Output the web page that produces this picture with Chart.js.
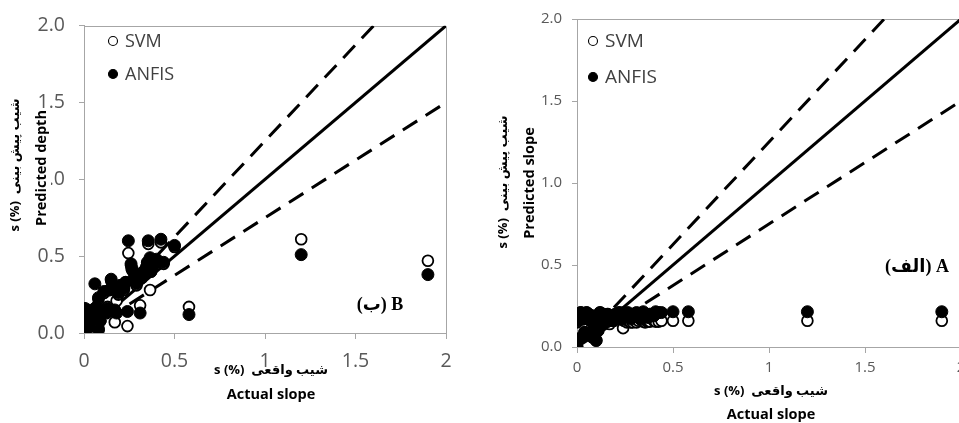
<!DOCTYPE html>
<html>
<head>
<meta charset="utf-8">
<script src="https://cdn.jsdelivr.net/npm/chart.js@4.4.0/dist/chart.umd.min.js"></script>
<style>
html, body { margin: 0; padding: 0; background: #fff; overflow: hidden; }
body { width: 959px; height: 423px; position: relative; }
.panel { position: absolute; top: 0; height: 423px; }
#wrapB { left: 0; width: 480px; }
#wrapA { left: 480px; width: 600px; }
</style>
</head>
<body>
<div class="panel" id="wrapB"><canvas id="chartB" width="480" height="423"></canvas></div>
<div class="panel" id="wrapA"><canvas id="chartA" width="600" height="423"></canvas></div>
<script>
// actual slope of each sample (shared by both panels)
var actualSlope = [0, 0, 0, 0.005, 0.01, 0.02, 0.03, 0.04, 0.05, 0.06,
  0.07, 0.08, 0.08, 0.09, 0.10, 0.11, 0.12, 0.13, 0.14, 0.15,
  0.16, 0.17, 0.18, 0.19, 0.20, 0.22, 0.23, 0.24, 0.245, 0.26,
  0.265, 0.28, 0.29, 0.31, 0.32, 0.33, 0.345, 0.35, 0.355, 0.365,
  0.37, 0.38, 0.40, 0.41, 0.425, 0.44, 0.50, 0.58, 1.2, 1.9];

// panel B (left)
var svmB = [0.02, 0.06, 0.12, 0.15, 0.09, 0.14, 0.04, 0.13, 0.10, 0.16,
  0.13, 0.03, 0.22, 0.08, 0.14, 0.26, 0.15, 0.17, 0.28, 0.34,
  0.29, 0.07, 0.21, 0.25, 0.30, 0.28, 0.33, 0.045, 0.52, 0.44,
  0.41, 0.37, 0.31, 0.18, 0.36, 0.40, 0.42, 0.45, 0.58, 0.28,
  0.40, 0.43, 0.47, 0.45, 0.59, 0.45, 0.56, 0.17, 0.61, 0.47];
var anfisB = [0.02, 0.05, 0.12, 0.16, 0.09, 0.15, 0.04, 0.14, 0.10, 0.32,
  0.17, 0.02, 0.23, 0.08, 0.12, 0.27, 0.14, 0.16, 0.28, 0.35,
  0.30, 0.15, 0.13, 0.26, 0.31, 0.29, 0.33, 0.14, 0.60, 0.45,
  0.42, 0.37, 0.32, 0.13, 0.37, 0.40, 0.43, 0.46, 0.60, 0.49,
  0.40, 0.44, 0.48, 0.46, 0.61, 0.46, 0.57, 0.12, 0.51, 0.38];

// panel A (right)
var svmA = [0.00, 0.03, 0.15, 0.20, 0.05, 0.21, 0.17, 0.09, 0.21, 0.20,
  0.16, 0.06, 0.19, 0.13, 0.04, 0.10, 0.21, 0.17, 0.20, 0.15,
  0.20, 0.14, 0.19, 0.16, 0.20, 0.21, 0.17, 0.115, 0.16, 0.15,
  0.16, 0.15, 0.15, 0.15, 0.16, 0.17, 0.155, 0.16, 0.15, 0.155,
  0.16, 0.155, 0.16, 0.155, 0.155, 0.16, 0.16, 0.16, 0.16, 0.16];
var anfisA = [0.00, 0.03, 0.16, 0.20, 0.05, 0.21, 0.17, 0.09, 0.21, 0.20,
  0.16, 0.06, 0.19, 0.13, 0.04, 0.10, 0.21, 0.17, 0.20, 0.15,
  0.20, 0.16, 0.19, 0.16, 0.20, 0.21, 0.17, 0.20, 0.21, 0.20,
  0.21, 0.17, 0.20, 0.21, 0.20, 0.17, 0.215, 0.19, 0.20, 0.20,
  0.18, 0.20, 0.19, 0.215, 0.21, 0.21, 0.215, 0.215, 0.215, 0.215];

// 1:1 line and the +-25% band
var lineX = [0, 2];
var identityY = [0, 2];
var upperY = [0, 2.5];
var lowerY = [0, 1.5];

var xTicks = [0, 0.5, 1, 1.5, 2];
var yTicks = [0, 0.5, 1, 1.5, 2];
var seriesNames = ['SVM', 'ANFIS'];
var xTitle = ['s (%)  شیب واقعی', 'Actual slope'];
var yTitleB = ['s (%)  شیب پیش بینی', 'Predicted depth'];
var yTitleA = ['s (%)  شیب پیش بینی', 'Predicted slope'];
var tagB = '(ب) B';
var tagA = '(الف) A';

function pairs(xs, ys) {
  return xs.map(function (x, i) { return { x: x, y: ys[i] }; });
}

var panelDecor = {
  id: 'panelDecor',
  beforeDatasetsDraw: function (chart) {
    var a = chart.chartArea, ctx = chart.ctx;
    ctx.save();
    ctx.strokeStyle = '#a6a6a6';
    ctx.lineWidth = 1;
    ctx.beginPath();
    ctx.moveTo(a.left, Math.round(a.top) + 0.5);
    ctx.lineTo(Math.round(a.right) + 0.5, Math.round(a.top) + 0.5);
    ctx.lineTo(Math.round(a.right) + 0.5, a.bottom);
    ctx.stroke();
    ctx.restore();
  },
  afterDraw: function (chart, args, o) {
    var ctx = chart.ctx;
    ctx.save();
    // legend
    var sets = chart.data.datasets.filter(function (d) { return d.legendRow !== undefined; })
      .sort(function (p, q) { return p.legendRow - q.legendRow; });
    sets.forEach(function (d, i) {
      var y = o.legendY[i];
      ctx.beginPath();
      ctx.arc(o.legendX, y, o.legendR, 0, Math.PI * 2);
      ctx.fillStyle = d.backgroundColor;
      ctx.fill();
      ctx.lineWidth = 1.1;
      ctx.strokeStyle = '#000';
      ctx.stroke();
      ctx.font = o.legendFont;
      ctx.fillStyle = '#404040';
      ctx.textAlign = 'left';
      ctx.textBaseline = 'middle';
      ctx.fillText(d.label, o.legendX + o.legendGap, y + 1);
    });

    // x title (two lines)
    ctx.fillStyle = '#000';
    ctx.textAlign = 'center';
    ctx.textBaseline = 'middle';
    ctx.font = o.font1;
    ctx.fillText(o.xTitle[0], o.xTitleX, o.xTitleY[0]);
    ctx.font = o.font2;
    ctx.fillText(o.xTitle[1], o.xTitleX, o.xTitleY[1]);

    // y title (rotated, white box behind)
    [0, 1].forEach(function (i) {
      ctx.save();
      ctx.translate(o.yTitleX[i], o.yTitleY[i]);
      ctx.rotate(-Math.PI / 2);
      ctx.font = i === 0 ? o.font1 : o.font2;
      var w = ctx.measureText(o.yTitle[i]).width;
      ctx.fillStyle = '#fff';
      ctx.fillRect(-w / 2 - 2, -9, w + 4, 18);
      ctx.fillStyle = '#000';
      ctx.fillText(o.yTitle[i], 0, 0);
      ctx.restore();
    });

    // panel tag
    ctx.font = '700 18px "Liberation Serif", "DejaVu Serif", "DejaVu Sans"';
    ctx.fillStyle = '#000';
    ctx.fillText(o.tag, o.tagX, o.tagY);
    ctx.restore();
  }
};

function makePanel(id, svm, anfis, cfg) {
  var tickFont = { family: 'Open Sans', size: cfg.tickSize };
  return new Chart(document.getElementById(id), {
    type: 'scatter',
    data: {
      datasets: [
        { label: seriesNames[1], legendRow: 1, data: pairs(actualSlope, anfis), order: 0,
          pointRadius: 6, pointBackgroundColor: '#000', backgroundColor: '#000',
          borderColor: '#000', pointBorderWidth: 1 },
        { label: seriesNames[0], legendRow: 0, data: pairs(actualSlope, svm), order: 1,
          pointRadius: 5.4, pointBackgroundColor: '#fff', backgroundColor: '#fff',
          borderColor: '#000', pointBorderWidth: 1.8 },
        { label: '1:1', data: pairs(lineX, identityY), order: 2, showLine: true,
          pointRadius: 0, borderColor: '#000', borderWidth: 3 },
        { label: '+25%', data: pairs(lineX, upperY), order: 2, showLine: true,
          pointRadius: 0, borderColor: '#000', borderWidth: 3, borderDash: [17, 10] },
        { label: '-25%', data: pairs(lineX, lowerY), order: 2, showLine: true,
          pointRadius: 0, borderColor: '#000', borderWidth: 3, borderDash: [17, 10] }
      ]
    },
    options: {
      responsive: false,
      animation: false,
      events: [],
      layout: { padding: { left: 0, top: 19, right: cfg.padRight, bottom: 0 } },
      plugins: {
        legend: { display: false },
        tooltip: { enabled: false },
        panelDecor: cfg.decor
      },
      scales: {
        x: {
          type: 'linear', min: 0, max: 2,
          afterFit: function (s) { s.height = cfg.xHeight; },
          afterBuildTicks: function (s) { s.ticks = xTicks.map(function (v) { return { value: v }; }); },
          grid: { drawOnChartArea: false, drawTicks: true, tickLength: 6, color: '#a6a6a6' },
          border: { display: true, color: '#a6a6a6' },
          ticks: { font: tickFont, color: '#595959', padding: cfg.xPad, maxRotation: 0,
            callback: function (v) { return String(v); } }
        },
        y: {
          type: 'linear', min: 0, max: 2,
          afterFit: function (s) { s.width = cfg.yWidth; },
          afterBuildTicks: function (s) { s.ticks = yTicks.map(function (v) { return { value: v }; }); },
          grid: { drawOnChartArea: false, drawTicks: true, tickLength: 5, color: '#a6a6a6' },
          border: { display: true, color: '#a6a6a6' },
          ticks: { font: tickFont, color: '#595959', padding: cfg.yPad,
            callback: function (v) { return v.toFixed(1); } }
        }
      }
    },
    plugins: [panelDecor]
  });
}

var font1 = '700 13px "Open Sans", "DejaVu Sans"';
var font2 = '700 14.5px "Open Sans", "DejaVu Sans"';

makePanel('chartB', svmB, anfisB, {
  tickSize: 19.5, padRight: 34, xHeight: 90, yWidth: 84, xPad: 11, yPad: 14,
  decor: {
    legendX: 113, legendY: [41, 74], legendR: 4.5, legendGap: 12, legendFont: '18px "Open Sans"',
    font1: font1, font2: font2,
    xTitle: xTitle, xTitleX: 271, xTitleY: [370, 395],
    yTitle: yTitleB, yTitleX: [15, 42], yTitleY: [165, 168],
    tag: tagB, tagX: 380, tagY: 305
  }
});

makePanel('chartA', svmA, anfisA, {
  tickSize: 15, padRight: 119, xHeight: 76, yWidth: 97, xPad: 6, yPad: 10,
  decor: {
    legendX: 113, legendY: [41, 77], legendR: 4.5, legendGap: 12, legendFont: '19px "Open Sans"',
    font1: font1, font2: font2,
    xTitle: xTitle, xTitleX: 291, xTitleY: [391, 415],
    yTitle: yTitleA, yTitleX: [23, 50], yTitleY: [182, 183],
    tag: tagA, tagX: 437, tagY: 267
  }
});
</script>
</body>
</html>
